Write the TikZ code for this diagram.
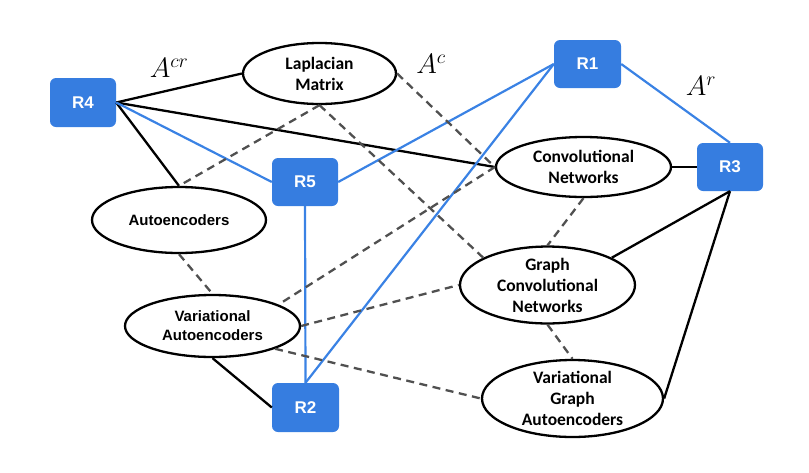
\RequirePackage{fix-cm}
\documentclass[tikz,border=0pt]{standalone}
\usepackage{fontspec}
\setmainfont{Carlito}
\newfontfamily\arialfont{Liberation Sans}
\usetikzlibrary{shapes.geometric}
\definecolor{boxblue}{RGB}{54,125,224}
\definecolor{lineblue}{RGB}{58,130,228}
\definecolor{dashgray}{RGB}{80,80,80}
\tikzset{
 rbox/.style={rectangle, rounded corners=6pt, fill=boxblue, text=white, font=\arialfont\bfseries\fontsize{17}{20}\selectfont, inner sep=0pt},
 ell/.style={ellipse, draw=black, fill=white, line width=2.3pt, inner sep=0pt, align=center, font=\bfseries\fontsize{17.5}{21}\selectfont},
 ella/.style={ell, font=\arialfont\bfseries\fontsize{15}{19}\selectfont},
 blk/.style={draw=black, line width=2.3pt},
 blu/.style={draw=lineblue, line width=2.2pt},
 dsh/.style={draw=dashgray, line width=2.3pt, dash pattern=on 8pt off 5.5pt},
 lbl/.style={font=\fontsize{28}{32}\selectfont, inner sep=0pt}
}
\begin{document}
\begin{tikzpicture}[x=1pt,y=-1pt]
\useasboundingbox (0,0) rectangle (809,472);
% nodes
\node[rbox, minimum width=66, minimum height=49] (R4) at (83,102.5) {R4};
\node[rbox, minimum width=67, minimum height=48] (R1) at (587.5,64) {R1};
\node[rbox, minimum width=66, minimum height=48] (R3) at (730,167) {R3};
\node[rbox, minimum width=66, minimum height=48] (R5) at (305,182) {R5};
\node[rbox, minimum width=67, minimum height=49] (R2) at (305.5,407.5) {R2};
\node[ell, minimum width=153, minimum height=61] (LM) at (319.5,73.5) {Laplacian\\Matrix};
\node[ell, minimum width=175, minimum height=60] (CN) at (583.5,167) {Convolutional\\Networks};
\node[ella, minimum width=174, minimum height=66] (AE) at (179,220) {Autoencoders};
\node[ella, minimum width=175, minimum height=62] (VAE) at (212.5,326) {Variational\\Autoencoders};
\node[ell, minimum width=175, minimum height=70] (GCN) at (547.5,285) {Graph\\Convolutional\\Networks};
\node[ell, minimum width=181, minimum height=77] (VGAE) at (572.5,398.5) {Variational\\Graph\\Autoencoders};
% labels
\node[lbl] (Lcr) at (169,68) {$A^{cr}$};
\node[lbl] (Lc) at (431,64) {$A^{c}$};
\node[lbl] (Lr) at (701,86) {$A^{r}$};
% black edges
\draw[blk] (R4.east) -- (LM.west);
\draw[blk] (R4.east) -- (CN.west);
\draw[blk] (R4.east) -- (AE.north);
\draw[blk] (CN.east) -- (R3.west);
\draw[blk] (R3.south) -- (GCN.23);
\draw[blk] (R3.south) -- (VGAE.east);
\draw[blk] (VAE.south) -- (R2.west);
% blue edges
\draw[blu] (R4.east) -- (R5.west);
\draw[blu] (R5.east) -- (R1.west);
\draw[blu] (R1.west) -- (R2.north);
\draw[blu] (R5.south) -- (R2.north);
\draw[blu] (R1.east) -- (R3.north);
% dashed edges
\draw[dsh] (LM.south) -- (AE.north);
\draw[dsh] (LM.south) -- (GCN.157);
\draw[dsh] (LM.east) -- (CN.west);
\draw[dsh] (CN.west) -- (VAE.18);
\draw[dsh] (CN.south) -- (GCN.north);
\draw[dsh] (AE.south) -- (VAE.north);
\draw[dsh] (VAE.east) -- (GCN.west);
\draw[dsh] (VAE.-20) -- (VGAE.west);
\draw[dsh] (GCN.south) -- (VGAE.north);
\end{tikzpicture}
\end{document}
